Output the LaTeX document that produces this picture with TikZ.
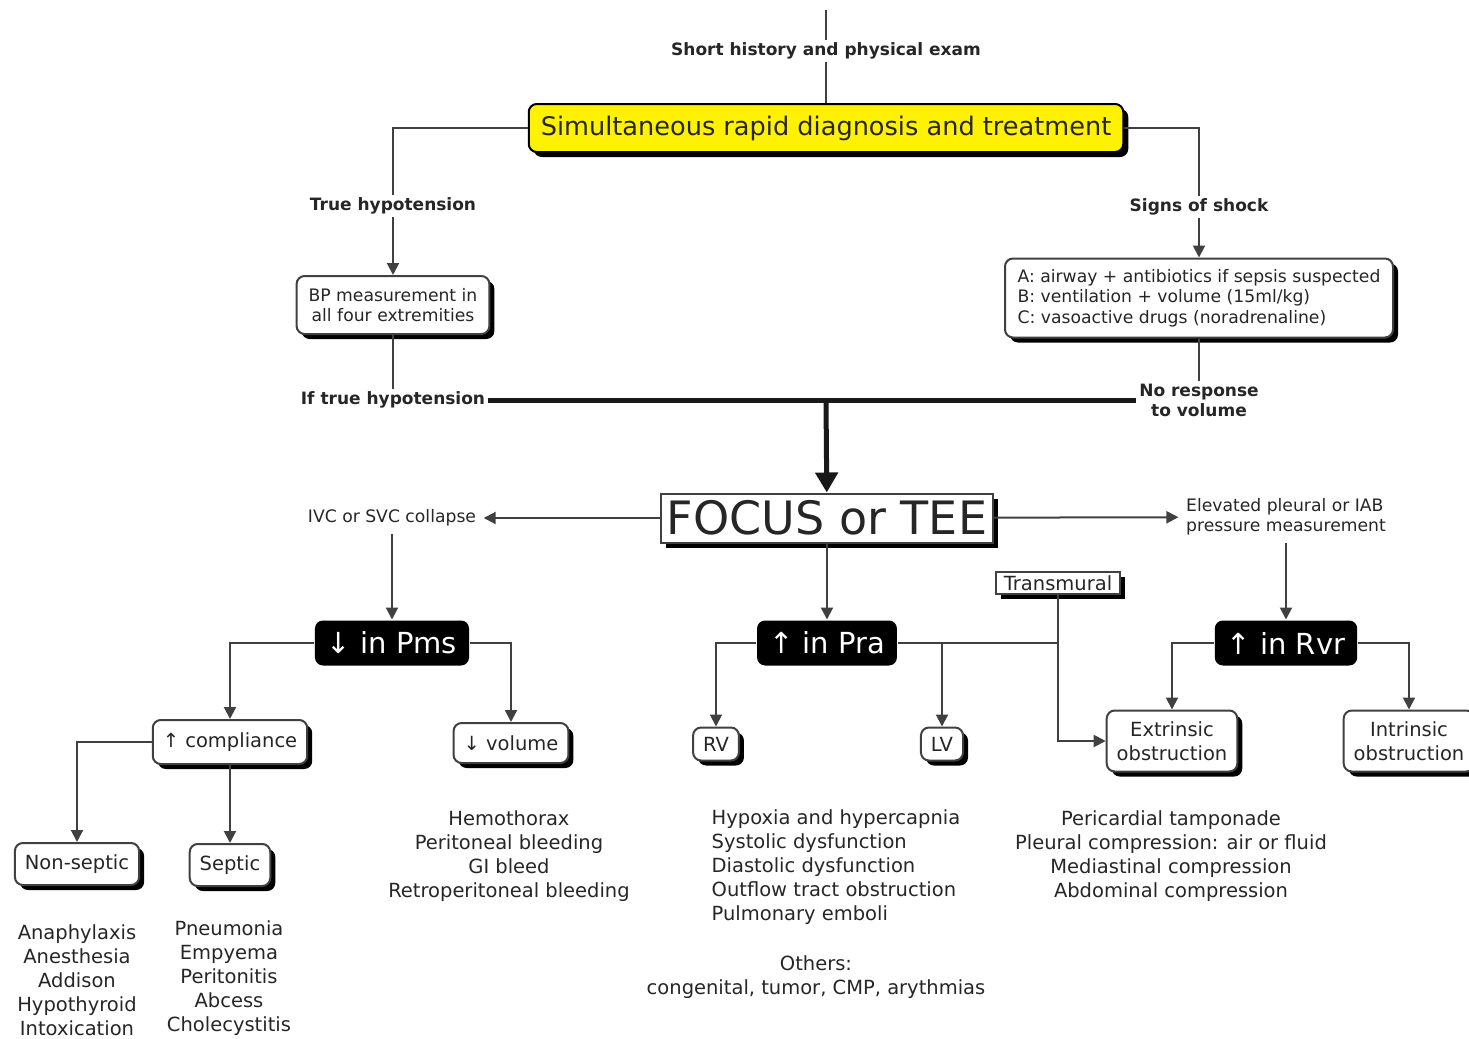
\documentclass[tikz,border=0pt]{standalone}
\usepackage{fontspec}
\setmainfont{DejaVu Sans}
\usetikzlibrary{arrows.meta,shadows}

\newcommand{\listfont}{\fontsize{9.75pt}{12pt}\selectfont}
\newcommand{\boxfont}{\fontsize{8.6pt}{10pt}\selectfont}
\newcommand{\abcfont}{\fontsize{8.6pt}{10.25pt}\selectfont}
\newcommand{\labfont}{\fontsize{8.5pt}{10pt}\selectfont\bfseries}

\begin{document}
\begin{tikzpicture}[x=0.5pt, y=-0.5pt, line width=1pt, draw=black!75, text=black!85,
  arr/.style={-{Triangle[length=6pt,width=6pt]}},
  big/.style={line width=2.5pt, draw=black!90, -{Triangle[length=10pt,width=11pt]}},
  box/.style={draw, rounded corners=4pt, fill=white, font=\listfont, align=center,
    inner xsep=5pt, inner ysep=3pt,
    drop shadow={shadow xshift=2.5pt, shadow yshift=-2.5pt, fill=black, opacity=1}},
  dark/.style={fill=black, text=white, rounded corners=4pt, minimum height=22.5pt,
    inner xsep=6pt, font=\fontsize{14.5pt}{16pt}\selectfont},
  lab/.style={font=\labfont, fill=white, inner sep=1pt, align=center},
  list/.style={font=\listfont, align=center}]
  \useasboundingbox (0,0) rectangle (1469,1039);

  \coordinate (top) at (826,10);
  \node[lab] (hist) at (826,51) {Short history and physical exam};
  \node[box, fill=yellow, draw=black, font=\fontsize{12.8pt}{15pt}\selectfont,
    minimum height=24pt, inner xsep=6pt] (sim) at (826,128) {Simultaneous rapid diagnosis and treatment};
  \node[lab] (truehyp) at (393,206) {True hypotension};
  \node[box, font=\boxfont, minimum height=29pt, inner xsep=6pt] (bp) at (393,305) {BP measurement in\\all four extremities};
  \node[lab] (iftrue) at (393,400) {If true hypotension};
  \node[lab] (signs) at (1199,207) {Signs of shock};
  \node[box, font=\abcfont, align=left, minimum width=194pt, minimum height=39.5pt] (abc) at (1199,298)
    {A: airway + antibiotics if sepsis suspected\\B: ventilation + volume (15ml/kg)\\C: vasoactive drugs (noradrenaline)};
  \node[lab] (noresp) at (1199,400) {No response\\to volume};
  \coordinate (merge) at (826,400);

  \node[box, sharp corners, font=\fontsize{23pt}{24pt}\selectfont, inner xsep=3pt, inner ysep=0pt,
    minimum height=24.5pt] (focus) at (827,518) {FOCUS or TEE};
  \node[font=\boxfont] (ivc) at (392,518) {IVC or SVC collapse};
  \node[font=\boxfont, align=left] (elev) at (1286,517) {Elevated pleural or IAB\\pressure measurement};
  \node[box, sharp corners, inner xsep=4pt, inner ysep=1.5pt] (trans) at (1058,583) {Transmural};

  \node[dark] (pms) at (392,643) {↓ in Pms};
  \node[dark] (pra) at (827,643) {↑ in Pra};
  \node[dark] (rvr) at (1286,643) {↑ in Rvr};
  \coordinate (lvj) at (942,643);
  \coordinate (tj) at (1058,643);

  \node[box, minimum height=22pt] (compl) at (230,742) {↑ compliance};
  \node[box, minimum height=20pt] (vol) at (511,743) {↓ volume};
  \node[box, minimum height=16.5pt, inner xsep=5pt] (rv) at (716,744) {RV};
  \node[box, minimum height=16.5pt, inner xsep=5pt] (lv) at (942,744) {LV};
  \node[box, minimum height=30.5pt] (extr) at (1172,741) {Extrinsic\\obstruction};
  \node[box, minimum height=30.5pt] (intr) at (1409,741) {Intrinsic\\obstruction};
  \node[box, minimum height=21pt] (nonsep) at (77,864) {Non-septic};
  \node[box, minimum height=21pt] (sep) at (230,865) {Septic};

  \node[list] (nslist) at (77,980) {Anaphylaxis\\Anesthesia\\Addison\\Hypothyroid\\Intoxication};
  \node[list] (slist) at (229,978) {Pneumonia\\Empyema\\Peritonitis\\Abcess\\Cholecystitis};
  \node[list] (vlist) at (509,856) {Hemothorax\\Peritoneal bleeding\\GI bleed\\Retroperitoneal bleeding};
  \node[list, align=left, anchor=west] (plist) at (704,867) {Hypoxia and hypercapnia\\Systolic dysfunction\\Diastolic dysfunction\\Outflow tract obstruction\\Pulmonary emboli};
  \node[list] (others) at (816,977) {Others:\\congenital, tumor, CMP, arythmias};
  \node[list] (rlist) at (1171,856) {Pericardial tamponade\\Pleural compression: air or fluid\\Mediastinal compression\\Abdominal compression};

  \draw (top) -- (hist);
  \draw (hist) -- (sim);
  \draw (sim.west) -| (truehyp);
  \draw[arr] (truehyp) -- (bp);
  \draw (bp) -- (iftrue);
  \draw (sim.east) -| (signs);
  \draw[arr] (signs) -- (abc);
  \draw (abc) -- (noresp);
  \draw[line width=2.5pt, draw=black!90] (iftrue) -- (noresp);
  \draw[big] (merge) -- (focus);

  \draw[arr] (focus) -- (ivc);
  \draw[arr] (focus) -- (elev);
  \draw[arr] (ivc) -- (pms);
  \draw[arr] (focus) -- (pra);
  \draw[arr] (elev) -- (rvr);

  \draw[arr] (pms.west) -| (compl);
  \draw[arr] (pms.east) -| (vol);
  \draw[arr] (compl.west) -| (nonsep);
  \draw[arr] (compl) -- (sep);
  \draw[arr] (pra.west) -| (rv);
  \draw (pra.east) -- (tj);
  \draw[arr] (lvj) -- (lv);
  \draw[arr] (trans) |- (extr);
  \draw[arr] (rvr.west) -| (extr);
  \draw[arr] (rvr.east) -| (intr);
\end{tikzpicture}
\end{document}
